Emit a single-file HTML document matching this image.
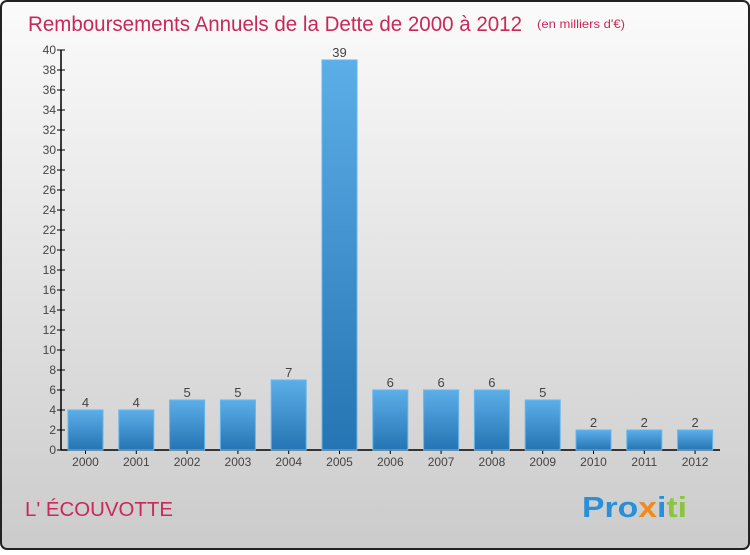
<!DOCTYPE html>
<html><head><meta charset="utf-8"><style>
body{margin:0;width:750px;height:550px;overflow:hidden;font-family:"Liberation Sans",sans-serif}
</style></head><body>
<svg width="750" height="550" xmlns="http://www.w3.org/2000/svg">
<defs>
<linearGradient id="bg" x1="0" y1="0" x2="0" y2="1"><stop offset="0" stop-color="#fbfbfb"/><stop offset="1" stop-color="#cbcbcb"/></linearGradient>
<linearGradient id="bar" x1="0" y1="0" x2="0" y2="1"><stop offset="0" stop-color="#5caee8"/><stop offset="1" stop-color="#2574b3"/></linearGradient>
</defs>
<rect x="1" y="1" width="748" height="548" rx="6" fill="url(#bg)" stroke="#222" stroke-width="2"/>
<text x="28" y="31" font-size="21" fill="#c8285a" textLength="494" lengthAdjust="spacingAndGlyphs">Remboursements Annuels de la Dette de 2000 à 2012</text>
<text x="537" y="28" font-size="12" fill="#c8285a" textLength="88" lengthAdjust="spacingAndGlyphs">(en milliers d'€)</text>
<g id="axes"></g>
<g id="bars"></g>
<text x="25" y="516" font-size="20" fill="#c8285a" textLength="148" lengthAdjust="spacingAndGlyphs">L' ÉCOUVOTTE</text>
<text x="582" y="517" font-size="29" font-weight="bold" textLength="105" lengthAdjust="spacingAndGlyphs"><tspan fill="#2a8fd6">Pro</tspan><tspan fill="#f08a1c">x</tspan><tspan fill="#2a8fd6">i</tspan><tspan fill="#8bc43f">ti</tspan></text>
</svg>
<script>
const years=["2000","2001","2002","2003","2004","2005","2006","2007","2008","2009","2010","2011","2012"];
const values=[4,4,5,5,7,39,6,6,6,5,2,2,2];
const yTicks=[0,2,4,6,8,10,12,14,16,18,20,22,24,26,28,30,32,34,36,38,40];
const NS="http://www.w3.org/2000/svg";
const y0=450,yMax=40,plotH=400,x0=61,step=50.8,bw=35,firstC=85.5;
const ys=v=>y0-v/yMax*plotH;
const xs=i=>firstC+i*step;
function mk(t,a,p){const e=document.createElementNS(NS,t);for(const k in a)e.setAttribute(k,a[k]);p.appendChild(e);return e;}
const ax=document.getElementById('axes'),bg=document.getElementById('bars');
let l=mk('line',{x1:x0,y1:ys(yMax),x2:x0,y2:y0,stroke:'#000','stroke-width':1.5},ax);


l=mk('line',{x1:x0,y1:y0,x2:720,y2:y0,stroke:'#000','stroke-width':1.5},ax);


yTicks.forEach(v=>{
 const t=mk('line',{x1:x0-4,y1:ys(v),x2:x0+4,y2:ys(v),stroke:'#000'},ax);
 
 
 const tx=mk('text',{x:x0-5,y:ys(v)+4,'font-size':12,fill:'#444','text-anchor':'end'},ax);
 tx.textContent=v;
 
 
});
years.forEach((yr,i)=>{
 const c=xs(i),v=values[i];
 const r=mk('rect',{x:c-bw/2,y:ys(v),width:bw,height:y0-ys(v),fill:'url(#bar)',stroke:'#63b6ee','stroke-width':1},bg);
 
 
 const tk=mk('line',{x1:c,y1:y0,x2:c,y2:y0+4,stroke:'#000'},ax);
 
 
 const xl=mk('text',{x:c,y:y0+16,'font-size':12,fill:'#444','text-anchor':'middle'},ax);
 xl.textContent=yr;
 
 
 const vl=mk('text',{x:c,y:ys(v)-3,'font-size':13,fill:'#444','text-anchor':'middle'},bg);
 vl.textContent=v;
 
 
});
</script>
</body></html>
